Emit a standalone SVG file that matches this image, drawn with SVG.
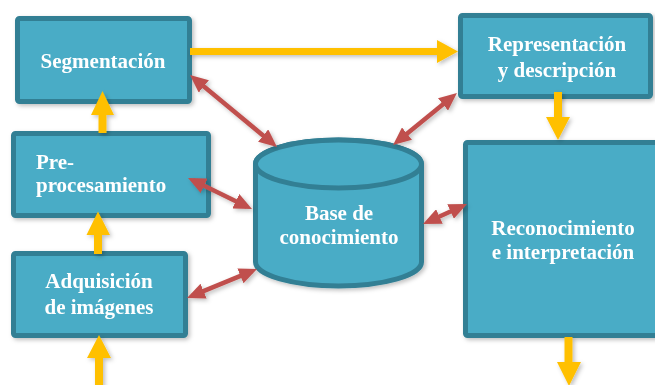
<svg xmlns="http://www.w3.org/2000/svg" width="655" height="385" viewBox="0 0 655 385">
<defs>
<style>
.box{fill:#4AACC6;stroke:#327F94;stroke-width:5}
.t{font-family:"Liberation Serif","Times New Roman",serif;font-weight:bold;font-size:21px;fill:#FFFFFF}
.c{text-anchor:middle}
.ya{fill:#FFC000}
.ra{stroke:#C0504D;stroke-width:4.5;fill:none;marker-start:url(#rh);marker-end:url(#rh)}
</style>
<marker id="rh" markerUnits="userSpaceOnUse" markerWidth="18" markerHeight="16" refX="12" refY="8" orient="auto-start-reverse" viewBox="0 0 18 16">
<path d="M0,0 L18,8 L0,16 z" fill="#C0504D"/>
</marker>
<filter id="sh" x="-20%" y="-20%" width="140%" height="140%">
<feDropShadow dx="2" dy="2" stdDeviation="2" flood-color="#000" flood-opacity="0.25"/>
</filter>
</defs>
<rect width="655" height="385" fill="#FFFFFF"/>
<g id="segmentacion" filter="url(#sh)">
<rect class="box" x="17.5" y="18.5" width="172" height="83" rx="2"/>
<text class="t c" x="103" y="68">Segmentación</text>
</g>
<g id="preprocesamiento" filter="url(#sh)">
<rect class="box" x="13.5" y="133.5" width="195" height="82" rx="2"/>
<text class="t" x="36" y="169">Pre-</text>
<text class="t" x="36" y="192">procesamiento</text>
</g>
<g id="adquisicion" filter="url(#sh)">
<rect class="box" x="13.5" y="253.5" width="172" height="82" rx="2"/>
<text class="t c" x="99" y="288">Adquisición</text>
<text class="t c" x="99" y="314">de imágenes</text>
</g>
<g id="representacion" filter="url(#sh)">
<rect class="box" x="460.5" y="15.5" width="190" height="81" rx="2"/>
<text class="t c" x="557" y="51">Representación</text>
<text class="t c" x="557" y="77">y descripción</text>
</g>
<g id="reconocimiento" filter="url(#sh)">
<rect class="box" x="465.5" y="142.5" width="200" height="193" rx="2"/>
<text class="t c" x="563" y="235">Reconocimiento</text>
<text class="t c" x="563" y="259">e interpretación</text>
</g>
<g id="base" filter="url(#sh)">
<path class="box" d="M255.5,164 L255.5,262 A83,24 0 0 0 421.5,262 L421.5,164 A83,24 0 0 0 255.5,164 z"/>
<ellipse class="box" cx="338.5" cy="164" rx="83" ry="24"/>
<text class="t c" x="339" y="220">Base de</text>
<text class="t c" x="339" y="244">conocimiento</text>
</g>
<g id="connectors" filter="url(#sh)">
<polygon class="ya" points="190,48 437,48 437,40 458,51.5 437,63 437,55 190,55"/>
<polygon class="ya" points="98.5,133 98.5,115 91,115 102.5,91 114,115 106.5,115 106.5,133"/>
<polygon class="ya" points="94,254 94,235 86.5,235 98,211.5 110,235 102,235 102,254"/>
<polygon class="ya" points="95,386 95,358 87,358 99,335 111,358 103,358 103,386"/>
<polygon class="ya" points="554,92 562,92 562,117 570,117 558,140 546,117 554,117"/>
<polygon class="ya" points="564.5,337 572.5,337 572.5,362 581,362 569,386 557,362 564.5,362"/>
<line class="ra" x1="194.6" y1="78.8" x2="272.4" y2="143.2"/>
<line class="ra" x1="193.4" y1="180.6" x2="246.6" y2="206.4"/>
<line class="ra" x1="192.5" y1="295.7" x2="251.5" y2="271.3"/>
<line class="ra" x1="397.7" y1="141.2" x2="452.3" y2="96.8"/>
<line class="ra" x1="428.5" y1="221.5" x2="461.5" y2="206.5"/>
</g>
</svg>
